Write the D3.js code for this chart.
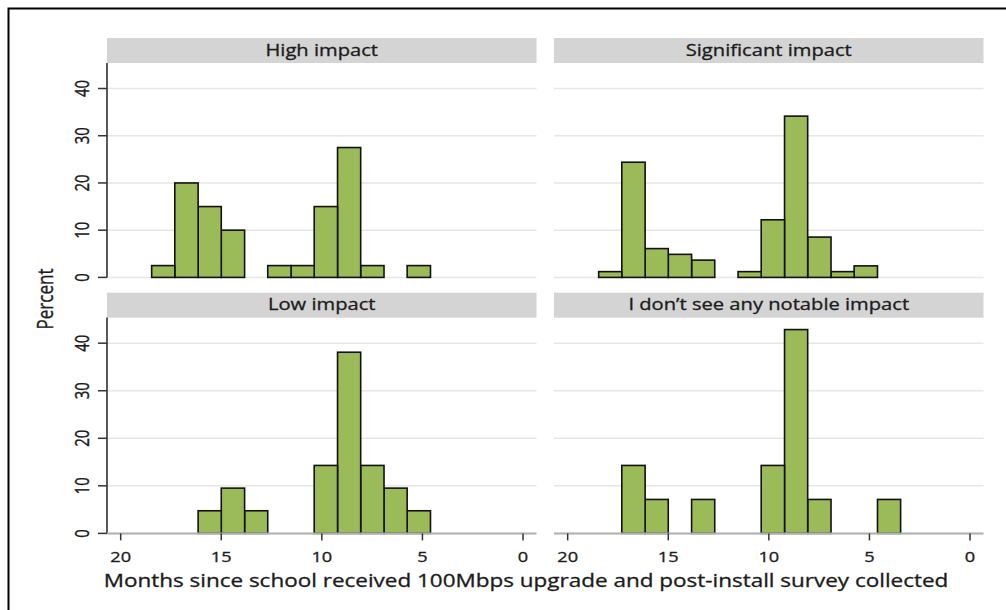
<!DOCTYPE html>
<html><head><meta charset="utf-8">
<script src="https://cdn.jsdelivr.net/npm/d3@7"></script>
<style>body{margin:0;background:#fff}svg{display:block}</style>
</head><body><svg id="c" width="1006" height="610"></svg>
<script>
// ---- data ----
const binEdges = [3.45, 4.60, 5.76, 6.91, 8.07, 9.22, 10.38, 11.53, 12.69, 13.84, 15.00, 16.15, 17.31, 18.46];
const panelTitles = ["High impact", "Significant impact", "Low impact", "I don\u2019t see any notable impact"];
const highImpact        = [0, 2.5, 0, 2.5, 27.5, 15, 2.5, 2.5, 0, 10, 15, 20, 2.5];
const significantImpact = [0, 2.44, 1.22, 8.54, 34.15, 12.20, 1.22, 0, 3.66, 4.88, 6.10, 24.39, 1.22];
const lowImpact         = [0, 4.76, 9.52, 14.29, 38.10, 14.29, 0, 0, 4.76, 9.52, 4.76, 0, 0];
const noImpact          = [7.14, 0, 0, 7.14, 42.86, 14.29, 0, 0, 7.14, 0, 7.14, 14.29, 0];
const xTicks = [20, 15, 10, 5, 0];
const yTicks = [0, 10, 20, 30, 40];
const xTitle = "Months since school received 100Mbps upgrade and post-install survey collected";
const yTitle = "Percent";

// ---- layout ----
const SX = 1.3; // horizontal stretch of the original picture's text
const FONT = "'Open Sans', 'DejaVu Sans', sans-serif";
const colX = [107, 554], panelW = 429.5;
const stripTop = [38, 292.7], stripH = 25;
const plotTop = [63, 317.5], plotBot = [277.4, 533.4];
const svg = d3.select("#c");

function txt(g, x, y, s, size, anchor, rot) {
  return g.append("text")
    .attr("transform", `translate(${x},${y}) scale(${SX},1)` + (rot ? ` rotate(${rot})` : ""))
    .attr("text-anchor", anchor || "middle")
    .attr("font-family", FONT).attr("font-size", size)
    .attr("fill", "#1c1c1c").attr("stroke", "#1c1c1c").attr("stroke-width", 0.3)
    .text(s);
}

// outer border
svg.append("path").attr("d", "M8.5,610 V8.5 H1006").attr("fill", "none").attr("stroke", "#000").attr("stroke-width", 2);

const panels = [
  {title: panelTitles[0], vals: highImpact, col: 0, row: 0},
  {title: panelTitles[1], vals: significantImpact, col: 1, row: 0},
  {title: panelTitles[2], vals: lowImpact, col: 0, row: 1},
  {title: panelTitles[3], vals: noImpact, col: 1, row: 1}
];

panels.forEach(p => {
  const x0 = colX[p.col], x1 = x0 + panelW;
  const x = d3.scaleLinear().domain([20.68, -0.67]).range([x0, x1]);
  const y = d3.scaleLinear().domain([0, 45.4]).range([plotBot[p.row], plotTop[p.row]]);
  const g = svg.append("g");

  // strip
  g.append("rect").attr("x", x0).attr("y", stripTop[p.row]).attr("width", panelW).attr("height", stripH).attr("fill", "#d4d4d4");
  txt(g, (x0 + x1) / 2, stripTop[p.row] + 17.5, p.title, 15.5);

  // gridlines
  g.selectAll(".grid").data(yTicks).join("line")
    .attr("x1", x0).attr("x2", x1).attr("y1", d => y(d)).attr("y2", d => y(d))
    .attr("stroke", "#e6e6e6").attr("stroke-width", 1.5);

  // bars
  const bins = p.vals.map((v, i) => ({lo: binEdges[i], hi: binEdges[i + 1], v})).filter(d => d.v > 0);
  g.selectAll(".bar").data(bins).join("rect")
    .attr("x", d => x(d.hi)).attr("width", d => x(d.lo) - x(d.hi))
    .attr("y", d => y(d.v)).attr("height", d => y(0) - y(d.v))
    .attr("fill", "#9bbb59").attr("stroke", "#111").attr("stroke-width", 1.6);

  // y axis on left column
  if (p.col === 0) {
    g.append("line").attr("x1", x0).attr("x2", x0).attr("y1", plotTop[p.row]).attr("y2", plotBot[p.row])
      .attr("stroke", "#222").attr("stroke-width", 1.5);
    g.selectAll(".yt").data(yTicks).join("line")
      .attr("x1", x0 - 9).attr("x2", x0).attr("y1", d => y(d)).attr("y2", d => y(d))
      .attr("stroke", "#333").attr("stroke-width", 1.5);
    yTicks.forEach(t => txt(g, 88.5, y(t), String(t), 15, "middle", -90));
  }
  // x axis on bottom row
  if (p.row === 1) {
    g.append("line").attr("x1", x0).attr("x2", x1).attr("y1", y(0)).attr("y2", y(0))
      .attr("stroke", "#b0b0b0").attr("stroke-width", 2);
    g.selectAll(".xt").data(xTicks).join("line")
      .attr("x1", d => x(d)).attr("x2", d => x(d)).attr("y1", y(0)).attr("y2", y(0) + 7)
      .attr("stroke", "#333").attr("stroke-width", 1.5);
    xTicks.forEach(t => txt(g, x(t), 561.5, String(t), 14));
  }
});

// axis titles
txt(svg, 526, 587, xTitle, 17.3);
txt(svg, 53, 299, yTitle, 17, "middle", -90);
</script>
</body></html>
